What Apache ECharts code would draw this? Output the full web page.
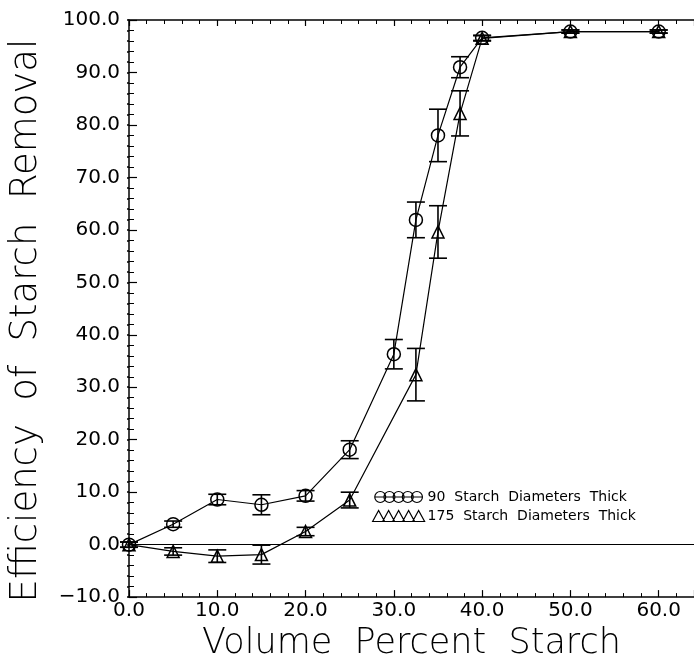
<!DOCTYPE html>
<html>
<head>
<meta charset="utf-8">
<script src="https://cdn.jsdelivr.net/npm/echarts@6/dist/echarts.min.js"></script>
<style>
  html, body { margin: 0; padding: 0; background: #fff; }
  #chart { width: 694px; height: 666px; }
</style>
</head>
<body>
<div id="chart"></div>
<script>
// volume percent starch vs removal efficiency
const circleX = [0, 5, 10, 15, 20, 25, 30, 32.5, 35, 37.5, 40, 50, 60]
const circleY = [0, 3.9, 8.6, 7.6, 9.3, 18.1, 36.3, 61.9, 78.0, 91.0, 96.6, 97.8, 97.8]
const circleErr = [0.5, 0.6, 1.0, 1.9, 1.0, 1.7, 2.8, 3.4, 5.0, 2.0, 0.5, 0.3, 0.3]

const triX = [0, 5, 10, 15, 20, 25, 32.5, 35, 37.5, 40, 50, 60]
const triY = [0, -1.3, -2.2, -1.9, 2.5, 8.5, 32.4, 59.6, 82.2, 96.5, 97.8, 97.8]
const triErr = [0.5, 0.7, 1.2, 1.8, 0.8, 1.5, 5.0, 5.0, 4.3, 0.5, 0.3, 0.3]

const xTicks = [0, 10, 20, 30, 40, 50, 60]
const yTicks = [-10, 0, 10, 20, 30, 40, 50, 60, 70, 80, 90, 100]

// the scan uses wide word spacing
const seriesNames = ['90  Starch  Diameters  Thick', '175  Starch  Diameters  Thick']

const FONT = 'DejaVu Sans'

function pairs(xs, ys) {
  return xs.map((x, i) => [x, ys[i]])
}
function errRows(xs, ys, es) {
  return xs.map((x, i) => [x, ys[i] - es[i], ys[i] + es[i]])
}

// vertical bar with caps
function renderErr(params, api) {
  const lo = api.coord([api.value(0), api.value(1)])
  const hi = api.coord([api.value(0), api.value(2)])
  const half = 9
  const style = { stroke: '#000', lineWidth: 1.6 }
  return {
    type: 'group',
    children: [
      { type: 'line', shape: { x1: lo[0], y1: lo[1], x2: hi[0], y2: hi[1] }, style: style },
      { type: 'line', shape: { x1: lo[0] - half, y1: lo[1], x2: lo[0] + half, y2: lo[1] }, style: style },
      { type: 'line', shape: { x1: hi[0] - half, y1: hi[1], x2: hi[0] + half, y2: hi[1] }, style: style }
    ]
  }
}

// legend icons: a row of five overlapping open markers
let circIcon = 'path://M0,6 L52,6'
for (let i = 0; i < 5; i++) {
  const cx = i * 10
  circIcon += ' M' + cx + ',6 a6,6 0 1,0 12,0 a6,6 0 1,0 -12,0'
}
let triIcon = 'path://M0,11 L52,11'
for (let i = 0; i < 5; i++) {
  const x0 = i * 10
  triIcon += ' M' + x0 + ',11 L' + (x0 + 6) + ',0 L' + (x0 + 12) + ',11 Z'
}

const fmt = v => {
  const s = v.toFixed(1)
  return v < 0 ? '\u2212' + s.slice(1) : s
}

const chart = echarts.init(document.getElementById('chart'), null, { renderer: 'canvas' })

const option = {
  animation: false,
  backgroundColor: '#fff',
  textStyle: { fontFamily: FONT, color: '#000' },
  grid: { left: 128, right: 0, top: 20, bottom: 63, containLabel: false },
  legend: {
    orient: 'vertical',
    left: 372,
    top: 490,
    itemWidth: 54,
    itemHeight: 11,
    itemGap: 5,
    padding: 0,
    textStyle: { fontFamily: FONT, fontSize: 14, color: '#000', padding: [0, 0, 0, -3] },
    data: [
      { name: seriesNames[0], icon: circIcon, itemStyle: { color: 'rgba(0,0,0,0)', borderColor: '#000', borderWidth: 1.2 } },
      { name: seriesNames[1], icon: triIcon, itemStyle: { color: 'rgba(0,0,0,0)', borderColor: '#000', borderWidth: 1.2 } }
    ]
  },
  xAxis: [
    {
      type: 'value', min: 0, max: 64, interval: 10,
      name: 'Volume  Percent  Starch', nameLocation: 'middle', nameGap: 28,
      nameTextStyle: { fontFamily: FONT, fontSize: 35, fontWeight: 200, color: '#000' },
      axisLine: { show: true, onZero: false, lineStyle: { color: '#000', width: 1.5 } },
      axisTick: { show: true, inside: true, length: 7, lineStyle: { color: '#000', width: 1.2 } },
      minorTick: { show: true, splitNumber: 5, length: 4, lineStyle: { color: '#000', width: 1 } },
      axisLabel: {
        fontFamily: FONT, fontSize: 20, color: '#000', margin: 4, showMaxLabel: false,
        formatter: v => (xTicks.indexOf(v) >= 0 ? fmt(v) : '')
      },
      splitLine: { show: false }
    },
    {
      type: 'value', min: 0, max: 64, interval: 10, position: 'top',
      axisLine: { show: true, onZero: false, lineStyle: { color: '#000', width: 1.5 } },
      axisTick: { show: true, inside: true, length: 6, lineStyle: { color: '#000', width: 1.2 } },
      minorTick: { show: true, splitNumber: 5, length: 4, lineStyle: { color: '#000', width: 1 } },
      axisLabel: { show: false },
      splitLine: { show: false }
    }
  ],
  yAxis: [
    {
      type: 'value', min: -10, max: 100, interval: 10,
      name: 'Efficiency  of  Starch  Removal', nameLocation: 'middle', nameGap: 84,
      nameTextStyle: { fontFamily: FONT, fontSize: 37, fontWeight: 200, color: '#000', padding: [0, 24, 0, 0] },
      axisLine: { show: true, onZero: false, lineStyle: { color: '#000', width: 1.5 } },
      axisTick: { show: true, inside: true, length: 8, lineStyle: { color: '#000', width: 1.2 } },
      minorTick: { show: true, splitNumber: 5, length: 5, lineStyle: { color: '#000', width: 1 } },
      axisLabel: {
        fontFamily: FONT, fontSize: 20, color: '#000', margin: 9,
        formatter: v => (yTicks.indexOf(v) >= 0 ? fmt(v) : '')
      },
      splitLine: { show: false }
    },
    {
      type: 'value', min: -10, max: 100, interval: 10, position: 'right',
      axisLine: { show: false },
      axisTick: { show: true, inside: true, length: 2, lineStyle: { color: '#000', width: 1.5 } },
      minorTick: { show: true, splitNumber: 5, length: 2, lineStyle: { color: '#000', width: 1.5 } },
      axisLabel: { show: false },
      splitLine: { show: false }
    }
  ],
  series: [
    {
      name: seriesNames[0],
      type: 'line',
      data: pairs(circleX, circleY),
      symbol: 'circle',
      symbolSize: 13,
      lineStyle: { color: '#000', width: 1.2 },
      itemStyle: { color: 'rgba(0,0,0,0)', borderColor: '#000', borderWidth: 1.5 },
      z: 3,
      markLine: {
        silent: true,
        symbol: 'none',
        label: { show: false },
        lineStyle: { color: '#000', width: 1.2, type: 'solid' },
        data: [{ yAxis: 0 }]
      }
    },
    {
      name: seriesNames[1],
      type: 'line',
      data: pairs(triX, triY),
      symbol: 'triangle',
      symbolSize: 12,
      lineStyle: { color: '#000', width: 1.2 },
      itemStyle: { color: 'rgba(0,0,0,0)', borderColor: '#000', borderWidth: 1.5 },
      z: 3
    },
    {
      name: 'circleErr',
      type: 'custom',
      renderItem: renderErr,
      data: errRows(circleX, circleY, circleErr),
      encode: { x: 0, y: [1, 2] },
      z: 2
    },
    {
      name: 'triErr',
      type: 'custom',
      renderItem: renderErr,
      data: errRows(triX, triY, triErr),
      encode: { x: 0, y: [1, 2] },
      z: 2
    }
  ]
}

chart.setOption(option)
</script>
</body>
</html>
